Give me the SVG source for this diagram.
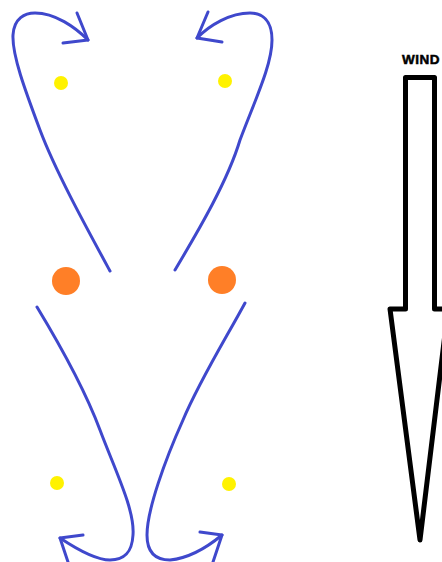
<svg xmlns="http://www.w3.org/2000/svg" width="442" height="562" viewBox="0 0 442 562">
<style>
.c{fill:none;stroke:#3f48cc;stroke-width:3;stroke-linecap:round;stroke-linejoin:round}
.y{fill:#fff200}
.o{fill:#ff7f27}
</style>
<rect width="442" height="562" fill="#fff"/>
<g id="connectors">
<path class="c" d="M110,271 C85,225 55,170 40,130 C25,90 12,55 13,35 C14,18 25,13 35,13 C55,13 75,27 88,40"/>
<path class="c" d="M77,13 L88,40 L63,43"/>
<path class="c" d="M175,270 C200,228 228,180 240,140 C255,100 272,65 272,40 C272,20 262,13 250,13 C230,13 210,25 197,38"/>
<path class="c" d="M208,12 L197,38 L222,42"/>
<path class="c" d="M37,307 C60,345 85,390 100,430 C115,470 135,510 133,535 C132,552 125,560 110,560 C95,560 75,548 60,538"/>
<path class="c" d="M83,535 L60,538 L68,562"/>
<path class="c" d="M245,303 C225,340 200,380 183,420 C165,460 147,510 147,535 C147,552 155,560 170,560 C190,558 210,545 222,535"/>
<path class="c" d="M200,532 L222,535 L213,562"/>
</g>
<g id="yellow-tl"><circle class="y" cx="61" cy="83" r="7"/></g>
<g id="yellow-tr"><circle class="y" cx="225" cy="81" r="7"/></g>
<g id="yellow-bl"><circle class="y" cx="57" cy="483" r="7"/></g>
<g id="yellow-br"><circle class="y" cx="229" cy="484" r="7"/></g>
<g id="orange-l"><circle class="o" cx="66" cy="281" r="14"/></g>
<g id="orange-r"><circle class="o" cx="222" cy="280" r="14"/></g>
<g id="wind">
<polygon points="390,309 405.5,309 405.5,77.5 434.5,77.5 434.5,309 448,309 420,540" fill="none" stroke="#000" stroke-width="5" stroke-linejoin="round"/>
<text x="402" y="64" font-family="Liberation Sans, Arial, sans-serif" font-weight="bold" font-size="13.5" letter-spacing="0.5" fill="#000" stroke="#000" stroke-width="0.5">WIND</text>
</g>
</svg>
